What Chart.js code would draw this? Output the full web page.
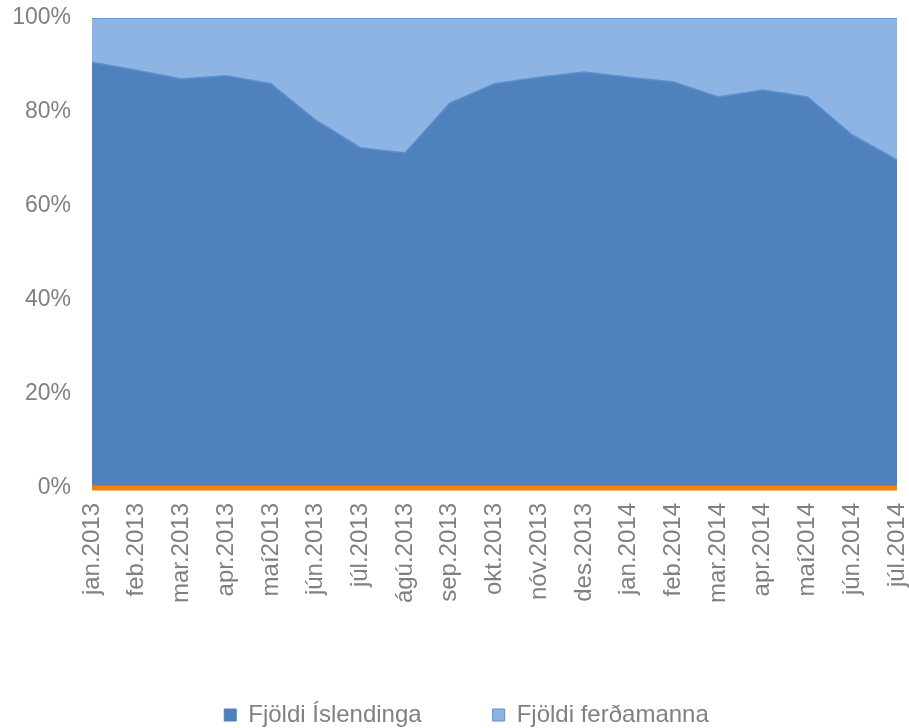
<!DOCTYPE html>
<html>
<head>
<meta charset="utf-8">
<script src="https://cdn.jsdelivr.net/npm/chart.js@4"></script>
<style>
  html, body { margin: 0; padding: 0; background: #fff; }
  #wrap { width: 909px; height: 728px; }
</style>
</head>
<body>
<div id="wrap"><canvas id="chart" width="909" height="728"></canvas></div>
<script>
// ========== data ==========
const months = ["jan.2013","feb.2013","mar.2013","apr.2013","maí2013","jún.2013","júl.2013","ágú.2013","sep.2013","okt.2013","nóv.2013","des.2013","jan.2014","feb.2014","mar.2014","apr.2014","maí2014","jún.2014","júl.2014"];
// share of Icelanders (%)
const islendingar = [90.6, 88.9, 87.0, 87.7, 86.0, 78.3, 72.4, 71.3, 81.9, 86.0, 87.4, 88.5, 87.4, 86.4, 83.2, 84.7, 83.2, 75.1, 69.8];
// share of tourists (%)
const ferdamenn = [9.4, 11.1, 13.0, 12.3, 14.0, 21.7, 27.6, 28.7, 18.1, 14.0, 12.6, 11.5, 12.6, 13.6, 16.8, 15.3, 16.8, 24.9, 30.2];
// third series, sits on the 0% line
const annad = [0, 0, 0, 0, 0, 0, 0, 0, 0, 0, 0, 0, 0, 0, 0, 0, 0, 0, 0];
const yTicks = [0, 20, 40, 60, 80, 100];

const grey = '#808080';
const font = 'Liberation Sans, Arial, sans-serif';

// pin the plot area to where it sits in the original
const plotBox = { left: 92, top: 18, right: 897, bottom: 488 };
const fixArea = {
    id: 'fixArea',
    afterLayout(chart) {
        const a = chart.chartArea;
        Object.assign(a, plotBox);
        a.width = a.right - a.left;
        a.height = a.bottom - a.top;
        const x = chart.scales.x, y = chart.scales.y;
        x.left = a.left; x.right = a.right; x.width = a.width;
        x.bottom = a.bottom + x.height; x.top = a.bottom;
        y.top = a.top; y.bottom = a.bottom; y.height = a.height;
        y.right = a.left; y.left = 0; y.width = a.left;
        x.configure();
        y.configure();
    }
};

const ctx = document.getElementById('chart').getContext('2d');
const myChart = new Chart(ctx, {
    type: 'line',
    plugins: [fixArea],
    data: {
        labels: months,
        datasets: [
            {
                label: 'Fjöldi Íslendinga',
                data: islendingar,
                backgroundColor: '#4f81bd',
                borderColor: '#5b8fd3',
                borderWidth: 1.5,
                fill: 'origin',
                pointRadius: 0,
                order: 1
            },
            {
                label: 'Fjöldi ferðamanna',
                data: ferdamenn,
                backgroundColor: '#8eb4e3',
                borderColor: '#5b8fd3',
                borderWidth: 1.5,
                fill: '-1',
                pointRadius: 0,
                order: 2
            },
            {
                label: 'annað',
                data: annad,
                borderColor: '#ff7f00',
                borderWidth: 5,
                fill: false,
                pointRadius: 0,
                clip: 6,
                order: 0
            }
        ]
    },
    options: {
        responsive: false,
        animation: false,
        layout: { padding: { top: 0, right: -12, left: 12, bottom: -9 } },
        elements: { line: { tension: 0 } },
        scales: {
            x: {
                offset: false,
                grid: { display: false, drawTicks: false },
                border: { display: false },
                ticks: {
                    color: grey,
                    font: { family: font, size: 24 },
                    minRotation: 90,
                    maxRotation: 90,
                    autoSkip: false,
                    padding: 15
                },
                afterFit: (scale) => { scale.height = 144; }
            },
            y: {
                stacked: true,
                min: 0,
                max: 100,
                grid: { display: false, drawTicks: false },
                border: { display: false },
                afterBuildTicks: (scale) => { scale.ticks = yTicks.map(v => ({ value: v })); },
                ticks: {
                    color: grey,
                    font: { family: font, size: 23 },
                    padding: 21,
                    callback: (v) => v + '%'
                },
                afterFit: (scale) => { scale.width = 92; }
            }
        },
        plugins: {
            tooltip: { enabled: false },
            legend: {
                position: 'bottom',
                labels: {
                    color: grey,
                    font: { family: font, size: 24 },
                    boxWidth: 12,
                    boxHeight: 12,
                    padding: 71,
                    filter: (item) => item.text !== 'annað',
                    generateLabels: (chart) => chart.data.datasets.map((ds, i) => ({
                        text: ds.label,
                        fillStyle: ds.backgroundColor,
                        strokeStyle: i === 1 ? '#5b8fd3' : ds.backgroundColor,
                        lineWidth: 1,
                        fontColor: grey,
                        datasetIndex: i
                    }))
                }
            }
        }
    }
});
</script>
</body>
</html>
